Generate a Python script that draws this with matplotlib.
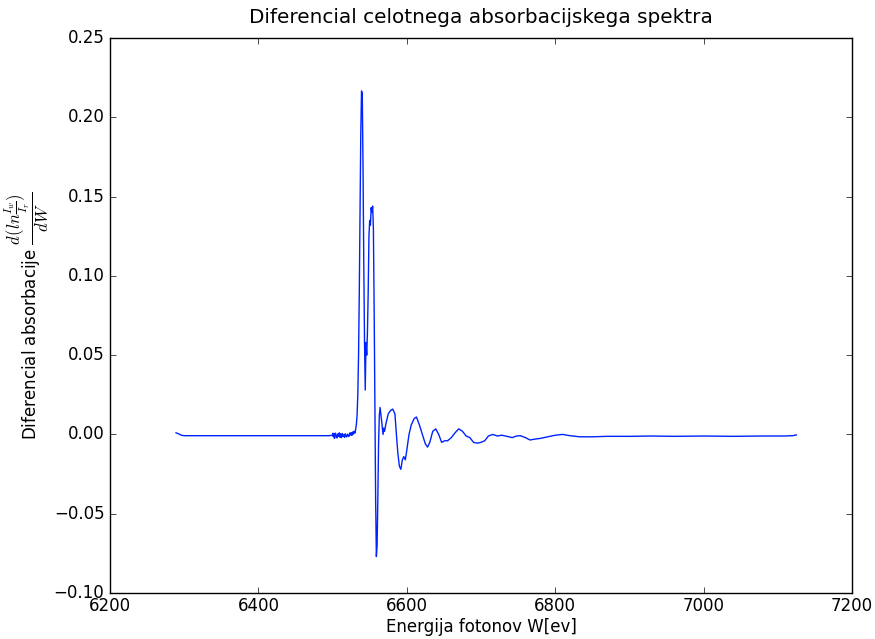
"""Diferencial celotnega absorbacijskega spektra -- odvod absorpcije po energiji."""

import matplotlib
matplotlib.use("Agg")
import matplotlib.pyplot as plt

# energija fotonov [eV]
energija = [
    6289, 6292, 6296, 6300, 6350, 6400, 6450, 6495,
    6500, 6500.5, 6501, 6501.5, 6502, 6502.5, 6503, 6503.5, 6504, 6505, 6506, 6507, 6508, 6509,
    6510, 6510.5, 6511, 6512, 6513, 6514, 6515, 6516, 6517, 6518, 6519,
    6520, 6521, 6522, 6523, 6524, 6525, 6526, 6527, 6528, 6529,
    6530, 6531, 6532, 6533, 6534, 6535, 6536, 6537, 6538, 6539,
    6540, 6541, 6542, 6543, 6544, 6545, 6546, 6547, 6548, 6549,
    6550, 6551, 6552, 6553, 6554, 6555, 6556, 6557, 6558, 6559,
    6560, 6561, 6562, 6563, 6564, 6566, 6568, 6569, 6570, 6572,
    6575, 6578, 6581, 6584, 6586, 6588, 6590, 6592, 6594, 6596,
    6598, 6600, 6603, 6606, 6610, 6613, 6617, 6621, 6625, 6628,
    6631, 6635, 6639, 6643, 6647, 6651, 6655, 6660, 6665, 6670,
    6675, 6680, 6685, 6690, 6695, 6700, 6705, 6710, 6716, 6722,
    6728, 6735, 6742, 6748, 6753, 6760, 6766, 6772, 6780, 6790,
    6800, 6810, 6820, 6833, 6850, 6870, 6900, 6930, 6960, 7000,
    7040, 7080, 7110, 7120, 7125,
]

# diferencial absorpcije d(ln(Iw/Ir))/dW
dabs = [
    0.001, 0.0005, -0.0005, -0.0008, -0.0008, -0.0008, -0.0008, -0.0008,
    -0.0005, 0.0008, -0.0015, 0.0002, 0.0005, -0.0025, -0.002, 0.0006, 0.0008, -0.001, -0.0022, 0.0003, -0.0012, 0.001,
    -0.0018, 0.0004, -0.0005, -0.002, 0.0006, -0.0012, -0.0003, -0.0019, 0.0004, -0.001, -0.0016,
    0.0002, -0.0008, -0.0013, 0.0009, -0.0004, 0.0012, -0.0006, 0.0015, 0.0002, 0.002,
    0.0008, 0.003, 0.006, 0.012, 0.025, 0.05, 0.09, 0.14, 0.19, 0.2166,
    0.215, 0.17, 0.11, 0.06, 0.028, 0.058, 0.05, 0.065, 0.09, 0.125,
    0.135, 0.132, 0.143, 0.14, 0.144, 0.13, 0.08, 0.02, -0.04, -0.077,
    -0.07, -0.04, -0.005, 0.012, 0.017, 0.009, 0.0, 0.004, 0.002, 0.007,
    0.013, 0.015, 0.016, 0.013, 0.0, -0.012, -0.02, -0.022, -0.016, -0.014,
    -0.016, -0.01, 0.0, 0.006, 0.01, 0.011, 0.006, 0.0, -0.006, -0.008,
    -0.005, 0.002, 0.0035, 0.0, -0.005, -0.004, -0.004, -0.002, 0.001, 0.0035,
    0.002, -0.001, -0.002, -0.005, -0.0055, -0.005, -0.004, -0.001, 0.0, -0.001,
    -0.0005, -0.0012, -0.002, -0.001, -0.0008, -0.002, -0.0035, -0.003, -0.0025, -0.0015,
    -0.0005, 0.0, -0.0008, -0.0015, -0.0015, -0.0012, -0.0012, -0.001, -0.0012, -0.001,
    -0.0012, -0.001, -0.001, -0.0008, -0.0003,
]


def main() -> None:
    plt.style.use("classic")
    plt.rcParams["figure.facecolor"] = "white"
    plt.rcParams["savefig.facecolor"] = "white"
    plt.rcParams["xtick.major.pad"] = 3
    plt.rcParams["ytick.major.pad"] = 4

    fig, ax = plt.subplots(figsize=(8.75, 6.39), dpi=100)
    fig.subplots_adjust(left=0.1257, right=0.9737, top=0.9405, bottom=0.072)

    ax.plot(energija, dabs, color="#0022ff", lw=1.0)
    ax.set_xlim(6200, 7200)
    ax.set_ylim(-0.10, 0.25)
    ax.set_title("Diferencial celotnega absorbacijskega spektra", pad=11)
    ax.set_xlabel("Energija fotonov W[ev]", labelpad=2)
    ax.set_ylabel(r"Diferencial absorbacije $\dfrac{d(ln\frac{I_{w}}{I_{r}})}{dW}$", labelpad=2)

    fig.savefig("out.png", dpi=100)
    plt.close(fig)


if __name__ == "__main__":
    main()
